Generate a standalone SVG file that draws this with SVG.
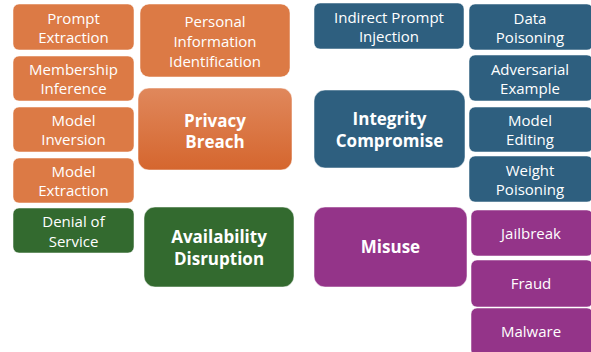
<svg xmlns="http://www.w3.org/2000/svg" width="591" height="352" viewBox="0 0 591 352">
<style>
.s{stroke:#ffffff;stroke-opacity:0.5;stroke-width:1}
.o{fill:#dc7a45}
.b{fill:#2e5f7f}
.g{fill:#336a2f}
.p{fill:#943489}
text{font-family:"Open Sans","Noto Sans","Liberation Sans",sans-serif;fill:#ffffff;text-anchor:middle}
.t{font-size:15px}
.h{font-size:17px;font-weight:bold}
</style>
<defs>
<linearGradient id="pg" x1="0" y1="0" x2="0" y2="1">
<stop offset="0" stop-color="#e0885c"/>
<stop offset="1" stop-color="#d5662e"/>
</linearGradient>
</defs>
<rect width="591" height="352" fill="#ffffff"/>
<g id="prompt-extraction"><rect class="o s" x="13" y="4" width="121" height="46" rx="6"/><text class="t" x="73.5" y="24">Prompt</text><text class="t" x="73.5" y="43">Extraction</text></g>
<g id="membership-inference"><rect class="o s" x="13" y="56" width="121" height="45" rx="6"/><text class="t" x="73.5" y="75">Membership</text><text class="t" x="73.5" y="94">Inference</text></g>
<g id="model-inversion"><rect class="o s" x="13" y="107" width="121" height="45" rx="6"/><text class="t" x="73.5" y="126">Model</text><text class="t" x="73.5" y="145">Inversion</text></g>
<g id="model-extraction"><rect class="o s" x="13" y="158" width="121" height="45" rx="6"/><text class="t" x="73.5" y="177">Model</text><text class="t" x="73.5" y="196">Extraction</text></g>
<g id="personal-information"><rect class="o s" x="140" y="4" width="150" height="73" rx="9"/><text class="t" x="215" y="27">Personal</text><text class="t" x="215" y="47">Information</text><text class="t" x="215" y="67">Identification</text></g>
<g id="privacy-breach"><rect fill="url(#pg)" class="s" x="138" y="88" width="154" height="82" rx="11"/><text class="h" x="215" y="127">Privacy</text><text class="h" x="215" y="148">Breach</text></g>
<g id="denial-of-service"><rect class="g s" x="13" y="208" width="121" height="45" rx="6"/><text class="t" x="73.5" y="227">Denial of</text><text class="t" x="73.5" y="247">Service</text></g>
<g id="availability-disruption"><rect class="g s" x="144" y="207" width="150" height="80" rx="11"/><text class="h" x="219" y="243">Availability</text><text class="h" x="219" y="265">Disruption</text></g>
<g id="indirect-prompt-injection"><rect class="b s" x="314" y="3" width="150" height="46" rx="6"/><text class="t" x="389" y="23">Indirect Prompt</text><text class="t" x="389" y="42">Injection</text></g>
<g id="integrity-compromise"><rect class="b s" x="314" y="90" width="151" height="78" rx="11"/><text class="h" x="389.5" y="125">Integrity</text><text class="h" x="389.5" y="147">Compromise</text></g>
<g id="data-poisoning"><rect class="b s" x="469" y="4" width="124" height="46" rx="6"/><text class="t" x="530" y="24">Data</text><text class="t" x="530" y="43">Poisoning</text></g>
<g id="adversarial-example"><rect class="b s" x="469" y="55" width="124" height="46" rx="6"/><text class="t" x="530" y="75">Adversarial</text><text class="t" x="530" y="94">Example</text></g>
<g id="model-editing"><rect class="b s" x="469" y="107" width="124" height="45" rx="6"/><text class="t" x="530" y="126">Model</text><text class="t" x="530" y="145">Editing</text></g>
<g id="weight-poisoning"><rect class="b s" x="469" y="156" width="124" height="46" rx="6"/><text class="t" x="530" y="176">Weight</text><text class="t" x="530" y="195">Poisoning</text></g>
<g id="misuse"><rect class="p s" x="314" y="207" width="153" height="80" rx="11"/><text class="h" x="390.5" y="253">Misuse</text></g>
<g id="jailbreak"><rect class="p s" x="471" y="210" width="122" height="46" rx="6"/><text class="t" x="531" y="239">Jailbreak</text></g>
<g id="fraud"><rect class="p s" x="471" y="260" width="122" height="47" rx="6"/><text class="t" x="531" y="289">Fraud</text></g>
<g id="malware"><rect class="p s" x="471" y="308" width="122" height="48" rx="6"/><text class="t" x="531" y="337">Malware</text></g>
<g id="connectors"></g>
</svg>
